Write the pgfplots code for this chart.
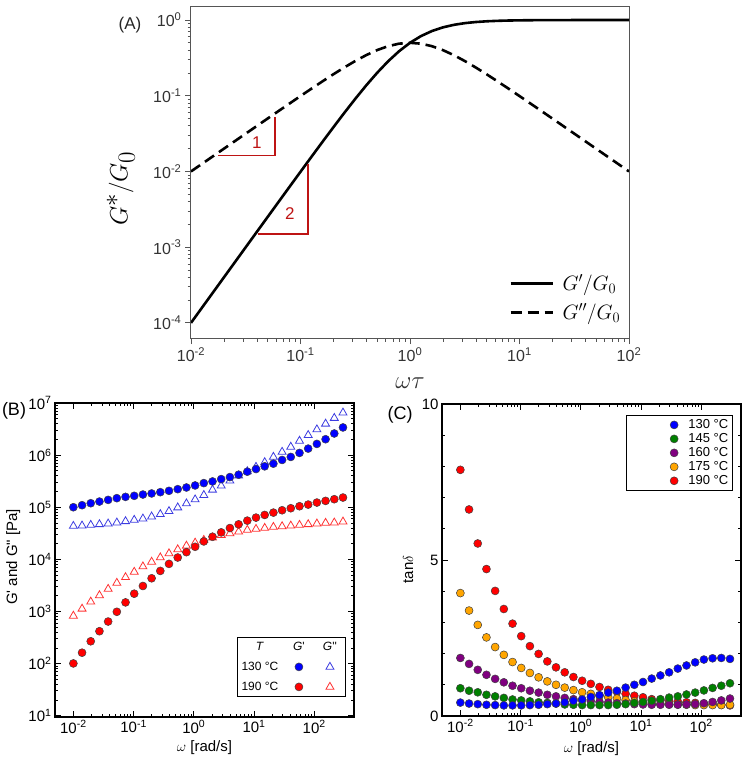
\documentclass[border=0pt]{standalone}
\usepackage{fontspec}
\setmainfont{Liberation Sans}
\usepackage{pgfplots}
\usepackage{pgfplotstable}
\pgfplotsset{compat=1.18}
\definecolor{cBlue}{RGB}{0,0,255}
\definecolor{cBlueT}{RGB}{60,60,225}
\definecolor{cRed}{RGB}{255,0,0}
\definecolor{cRedT}{RGB}{255,50,50}
\definecolor{cGreen}{RGB}{0,128,0}
\definecolor{cPurple}{RGB}{128,0,128}
\definecolor{cOrange}{RGB}{255,165,0}
\definecolor{cSlope}{RGB}{190,20,20}
\definecolor{axgray}{RGB}{85,85,85}

\pgfplotstableread{
wt Gp Gpp
0.01 9.999e-5 0.0099990
0.012589 1.5847e-4 0.012587
0.015849 2.5113e-4 0.015845
0.019953 3.9795e-4 0.019945
0.025119 6.3056e-4 0.025103
0.031623 9.990e-4 0.031591
0.039811 1.5824e-3 0.039748
0.050119 2.5056e-3 0.049993
0.063096 3.9653e-3 0.062846
0.079433 6.2700e-3 0.078935
0.1 9.901e-3 0.09901
0.12589 1.5602e-2 0.12393
0.15849 2.4503e-2 0.15461
0.19953 3.8287e-2 0.19189
0.25119 5.9351e-2 0.23628
0.31623 9.0909e-2 0.28748
0.39811 0.13681 0.34365
0.50119 0.20076 0.40056
0.63096 0.28475 0.45130
0.79433 0.38686 0.48703
1 0.5 0.5
1.2589 0.61314 0.48703
1.5849 0.71525 0.45130
1.9953 0.79924 0.40056
2.5119 0.86319 0.34365
3.1623 0.90909 0.28748
3.9811 0.94065 0.23628
5.0119 0.96171 0.19189
6.3096 0.97550 0.15461
7.9433 0.98440 0.12393
10 0.99010 0.09901
12.589 0.99373 0.078935
15.849 0.99603 0.062846
19.953 0.99749 0.049993
25.119 0.99842 0.039748
31.623 0.99900 0.031591
39.811 0.99937 0.025103
50.119 0.99960 0.019945
63.096 0.99975 0.015845
79.433 0.99984 0.012587
100 0.99990 0.0099990
}\tabA

\pgfplotstableread{
w Gp130 Gpp130 Gp190 Gpp190
0.01 1.000e5 4.365e4 100.7 824.1
0.013942 1.094e5 4.426e4 161.8 1125
0.019441 1.194e5 4.560e4 267.9 1535
0.027107 1.285e5 4.699e4 417.8 2037
0.037795 1.384e5 4.842e4 641.2 2698
0.052699 1.493e5 5.058e4 986.3 3524
0.073478 1.581e5 5.370e4 1493 4529
0.10245 1.656e5 5.702e4 2193 5741
0.14286 1.754e5 6.039e4 3083 7278
0.19919 1.837e5 6.607e4 4335 8954
0.27773 1.945e5 7.328e4 5998 1.084e4
0.38724 2.065e5 8.375e4 8185 1.297e4
0.54075 2.223e5 9.863e4 1.084e4 1.549e4
0.75422 2.393e5 1.178e5 1.374e4 1.820e4
1.0517 2.618e5 1.406e5 1.742e4 2.080e4
1.4663 2.904e5 1.706e5 2.208e4 2.344e4
2.0446 3.126e5 2.158e5 2.716e4 2.600e4
2.8510 3.467e5 2.582e5 3.296e4 2.924e4
3.9774 3.793e5 3.221e5 3.990e4 3.148e4
5.5463 4.207e5 4.027e5 4.699e4 3.396e4
7.7339 4.808e5 4.875e5 5.534e4 3.656e4
10.785 5.408e5 5.916e5 6.324e4 3.819e4
15.038 6.095e5 7.278e5 7.112e4 3.990e4
20.97 6.855e5 9.226e5 7.889e4 4.178e4
29.25 8.072e5 1.151e6 8.750e4 4.295e4
40.77 9.226e5 1.439e6 9.572e4 4.426e4
56.87 1.102e6 1.875e6 1.045e5 4.560e4
79.30 1.334e6 2.415e6 1.125e5 4.699e4
110.6 1.641e6 3.105e6 1.230e5 4.842e4
154.2 2.018e6 3.990e6 1.324e5 4.989e4
215.1 2.600e6 5.140e6 1.426e5 5.058e4
300.0 3.396e6 6.516e6 1.535e5 5.284e4
}\tabB

\pgfplotstableread{
w t130 t145 t160 t175 t190
0.01 0.43 0.89 1.86 3.94 7.89
0.013942 0.40 0.81 1.67 3.38 6.62
0.019441 0.38 0.76 1.48 2.92 5.53
0.027107 0.36 0.68 1.32 2.52 4.71
0.037795 0.35 0.63 1.19 2.21 4.01
0.052699 0.34 0.58 1.08 1.96 3.43
0.073478 0.34 0.53 0.97 1.73 2.96
0.10245 0.34 0.50 0.89 1.54 2.56
0.14286 0.35 0.47 0.81 1.38 2.24
0.19919 0.36 0.44 0.75 1.24 1.99
0.27773 0.38 0.42 0.68 1.11 1.75
0.38724 0.40 0.40 0.63 1.00 1.56
0.54075 0.44 0.37 0.58 0.91 1.40
0.75422 0.49 0.36 0.54 0.83 1.25
1.0517 0.53 0.35 0.51 0.76 1.13
1.4663 0.61 0.35 0.48 0.71 1.03
2.0446 0.67 0.35 0.45 0.65 0.93
2.8510 0.75 0.35 0.43 0.60 0.84
3.9774 0.81 0.36 0.41 0.56 0.78
5.5463 0.91 0.38 0.40 0.51 0.71
7.7339 1.00 0.42 0.38 0.47 0.65
10.785 1.09 0.45 0.37 0.44 0.60
15.038 1.20 0.49 0.36 0.40 0.54
20.97 1.30 0.54 0.36 0.39 0.50
29.25 1.40 0.59 0.36 0.38 0.48
40.77 1.52 0.63 0.36 0.37 0.46
56.87 1.62 0.69 0.37 0.36 0.44
79.30 1.72 0.75 0.38 0.35 0.42
110.6 1.81 0.82 0.41 0.35 0.39
154.2 1.85 0.90 0.45 0.35 0.38
215.1 1.86 0.97 0.50 0.35 0.36
300.0 1.83 1.05 0.56 0.36 0.34
}\tabC

\pgfplotsset{
  dotC/.style={only marks, mark=*, mark size=4pt, draw=black!75, line width=0.5pt, fill=#1},
  legC/.style={dotC=#1, legend image code/.code={\path[draw=none,fill=none] (0pt,-5pt) rectangle (58pt,5pt); \draw plot coordinates {(45pt,0pt)};}},
}

\begin{document}
\begin{tikzpicture}[x=1pt,y=1pt]
\path[use as bounding box] (0,0) rectangle (747,-763);

% ---------------- Panel A ----------------
\begin{axis}[
  at={(191pt,-338pt)}, anchor=south west, scale only axis,
  width=438pt, height=332pt,
  xmode=log, ymode=log, xmin=0.01, xmax=100, ymin=6.31e-5, ymax=1.531,
  xtick={0.01,0.1,1,10,100},
  xticklabels={10\textsuperscript{-2},10\textsuperscript{-1},10\textsuperscript{0},10\textsuperscript{1},10\textsuperscript{2}},
  ytick={1e-4,1e-3,1e-2,1e-1,1},
  yticklabels={10\textsuperscript{-4},10\textsuperscript{-3},10\textsuperscript{-2},10\textsuperscript{-1},10\textsuperscript{0}},
  tick align=outside, tick pos=left,
  axis line style={axgray, line width=1pt},
  tick style={axgray, line width=0.8pt},
  major tick length=6pt, minor tick length=3.5pt,
  ticklabel style={font=\fontsize{16}{19}\selectfont, color=black!80},
  xlabel={$\omega\tau$}, ylabel={$G^{*}/G_0$},
  xlabel style={font=\fontsize{24}{26}\selectfont, at={(axis description cs:0.5,-0.136)}, anchor=center, color=black!80},
  ylabel style={font=\fontsize{40}{42}\selectfont, at={(axis description cs:-0.16,0.45)}, anchor=center, rotate=0, color=black},
  legend style={draw=none, fill=none, at={(axis description cs:0.985,0.045)}, anchor=south east,
    row sep=8pt, font=\fontsize{20}{22}\selectfont, inner sep=0pt, nodes={inner sep=2pt}},
  legend cell align=left,
  legend image code/.code={\path[draw=none] (0pt,0pt) -- (50pt,0pt); \draw[#1] (0pt,0pt) -- (42pt,0pt);},
]
\addplot[black, line width=2.6pt] table[x=wt, y=Gp] {\tabA};
\addlegendentry{$G'/G_0$}
\addplot[black, line width=2.6pt, dash pattern=on 11pt off 6pt] table[x=wt, y=Gpp] {\tabA};
\addlegendentry{$G''/G_0$}
\addplot[cSlope, line width=1.6pt, forget plot] coordinates {(0.0177,0.0163) (0.0585,0.0163) (0.0585,0.053)};
\addplot[cSlope, line width=1.6pt, forget plot] coordinates {(0.0407,0.0015) (0.1165,0.0015) (0.1165,0.0125)};
\node[cSlope, font=\fontsize{17}{19}\selectfont] at (axis cs:0.040,0.0242) {1};
\node[cSlope, font=\fontsize{17}{19}\selectfont] at (axis cs:0.080,0.00278) {2};
\end{axis}

% ---------------- Panel B ----------------
\begin{axis}[
  at={(55pt,-717pt)}, anchor=south west, scale only axis,
  width=299pt, height=314pt,
  xmode=log, ymode=log, xmin=0.004955, xmax=457.1, ymin=9.44, ymax=1e7,
  xtick={0.01,0.1,1,10,100},
  xticklabels={10\textsuperscript{-2},10\textsuperscript{-1},10\textsuperscript{0},10\textsuperscript{1},10\textsuperscript{2}},
  ytick={10,100,1000,1e4,1e5,1e6,1e7},
  yticklabels={10\textsuperscript{1},10\textsuperscript{2},10\textsuperscript{3},10\textsuperscript{4},10\textsuperscript{5},10\textsuperscript{6},10\textsuperscript{7}},
  tick align=inside,
  axis line style={black, line width=1.2pt},
  tick style={black, line width=0.8pt},
  major tick length=6pt, minor tick length=3pt,
  ticklabel style={font=\fontsize{15}{17}\selectfont},
  xlabel={$\omega$ [rad/s]}, ylabel={G\textquotesingle{} and G\textquotedbl{} [Pa]},
  xlabel style={font=\fontsize{15}{17}\selectfont, at={(axis description cs:0.5,-0.099)}, anchor=center},
  ylabel style={font=\fontsize{15}{17}\selectfont, at={(axis description cs:-0.140,0.51)}, anchor=center},
  legend columns=3,
  legend style={at={(axis description cs:0.973,0.064)}, anchor=south east, draw=black, line width=1pt,
    font=\fontsize{12}{14}\selectfont, inner xsep=2.5pt, inner ysep=2.5pt, column sep=0pt, row sep=6pt,
    nodes={inner sep=0pt, outer sep=0pt, draw=none, fill=none}},
]
\addplot[only marks, mark=triangle, mark size=4.6pt, draw=cBlueT, line width=0.8pt, forget plot] table[x=w, y=Gpp130] {\tabB};
\addplot[only marks, mark=*, mark size=4pt, draw=black!75, fill=cBlue, line width=0.5pt, forget plot] table[x=w, y=Gp130] {\tabB};
\addplot[only marks, mark=triangle, mark size=4.6pt, draw=cRedT, line width=0.8pt, forget plot] table[x=w, y=Gpp190] {\tabB};
\addplot[only marks, mark=*, mark size=4pt, draw=black!75, fill=cRed, line width=0.5pt, forget plot] table[x=w, y=Gp190] {\tabB};
% legend (header row + two rows)
\addlegendimage{legend image code/.code={\path[draw=none,fill=none] (0pt,-7pt) rectangle (40pt,7pt); \node[draw=none,fill=none] at (20pt,0pt) {\textit{T}};}}
\addlegendentry{\mbox{}}
\addlegendimage{legend image code/.code={\path[draw=none,fill=none] (0pt,-7pt) rectangle (36pt,7pt); \node[draw=none,fill=none] at (18pt,0pt) {\textit{G}\textquotesingle};}}
\addlegendentry{\mbox{}}
\addlegendimage{legend image code/.code={\path[draw=none,fill=none] (0pt,-7pt) rectangle (24pt,7pt); \node[draw=none,fill=none] at (12pt,0pt) {\textit{G}\textquotesingle\textquotesingle};}}
\addlegendentry{\mbox{}}
\addlegendimage{legend image code/.code={\path[draw=none,fill=none] (0pt,-7pt) rectangle (40pt,7pt); \node[draw=none,fill=none] at (20pt,0pt) {130 °C};}}
\addlegendentry{\mbox{}}
\addlegendimage{only marks, mark=*, mark size=4pt, draw=black!75, fill=cBlue, line width=0.5pt,
  legend image code/.code={\path[draw=none,fill=none] (0pt,-7pt) rectangle (36pt,7pt); \draw plot coordinates {(18pt,0pt)};}}
\addlegendentry{\mbox{}}
\addlegendimage{only marks, mark=triangle, mark size=4.6pt, draw=cBlueT, line width=0.8pt,
  legend image code/.code={\path[draw=none,fill=none] (0pt,-7pt) rectangle (24pt,7pt); \draw plot coordinates {(12pt,0pt)};}}
\addlegendentry{\mbox{}}
\addlegendimage{legend image code/.code={\path[draw=none,fill=none] (0pt,-7pt) rectangle (40pt,7pt); \node[draw=none,fill=none] at (20pt,0pt) {190 °C};}}
\addlegendentry{\mbox{}}
\addlegendimage{only marks, mark=*, mark size=4pt, draw=black!75, fill=cRed, line width=0.5pt,
  legend image code/.code={\path[draw=none,fill=none] (0pt,-7pt) rectangle (36pt,7pt); \draw plot coordinates {(18pt,0pt)};}}
\addlegendentry{\mbox{}}
\addlegendimage{only marks, mark=triangle, mark size=4.6pt, draw=cRedT, line width=0.8pt,
  legend image code/.code={\path[draw=none,fill=none] (0pt,-7pt) rectangle (24pt,7pt); \draw plot coordinates {(12pt,0pt)};}}
\addlegendentry{\mbox{}}
\end{axis}

% ---------------- Panel C ----------------
\begin{axis}[
  at={(442pt,-716pt)}, anchor=south west, scale only axis,
  width=299pt, height=312pt,
  xmode=log, xmin=0.004955, xmax=457.1, ymin=0, ymax=10,
  xtick={0.01,0.1,1,10,100},
  xticklabels={10\textsuperscript{-2},10\textsuperscript{-1},10\textsuperscript{0},10\textsuperscript{1},10\textsuperscript{2}},
  ytick={0,5,10}, yticklabels={0,5,10}, minor y tick num=4,
  tick align=inside,
  axis line style={black, line width=1.2pt},
  tick style={black, line width=0.8pt},
  major tick length=6pt, minor tick length=3pt,
  ticklabel style={font=\fontsize{15}{17}\selectfont},
  xlabel={$\omega$ [rad/s]}, ylabel={tan$\delta$},
  xlabel style={font=\fontsize{15}{17}\selectfont, at={(axis description cs:0.5,-0.103)}, anchor=center},
  ylabel style={font=\fontsize{15}{17}\selectfont, at={(axis description cs:-0.113,0.47)}, anchor=center},
  legend style={at={(axis description cs:0.973,0.965)}, anchor=north east, draw=black, line width=1pt,
    font=\fontsize{13}{15}\selectfont, inner xsep=3pt, inner ysep=3pt, row sep=1pt,
    nodes={inner sep=1.2pt, draw=none, fill=none}},
  legend cell align=left,
]
\addplot[dotC=cRed, forget plot] table[x=w, y=t190] {\tabC};
\addplot[dotC=cOrange, forget plot] table[x=w, y=t175] {\tabC};
\addplot[dotC=cPurple, forget plot] table[x=w, y=t160] {\tabC};
\addplot[dotC=cGreen, forget plot] table[x=w, y=t145] {\tabC};
\addplot[dotC=cBlue, forget plot] table[x=w, y=t130] {\tabC};
\addlegendimage{legC=cBlue}
\addlegendentry{130 °C}
\addlegendimage{legC=cGreen}
\addlegendentry{145 °C}
\addlegendimage{legC=cPurple}
\addlegendentry{160 °C}
\addlegendimage{legC=cOrange}
\addlegendentry{175 °C}
\addlegendimage{legC=cRed}
\addlegendentry{190 °C}
\end{axis}

\node[font=\fontsize{17}{19}\selectfont, color=black!85] at (130,-25) {(A)};
\node[font=\fontsize{18}{20}\selectfont] at (14,-411) {(B)};
\node[font=\fontsize{18}{20}\selectfont] at (400,-415) {(C)};
\end{tikzpicture}
\end{document}
